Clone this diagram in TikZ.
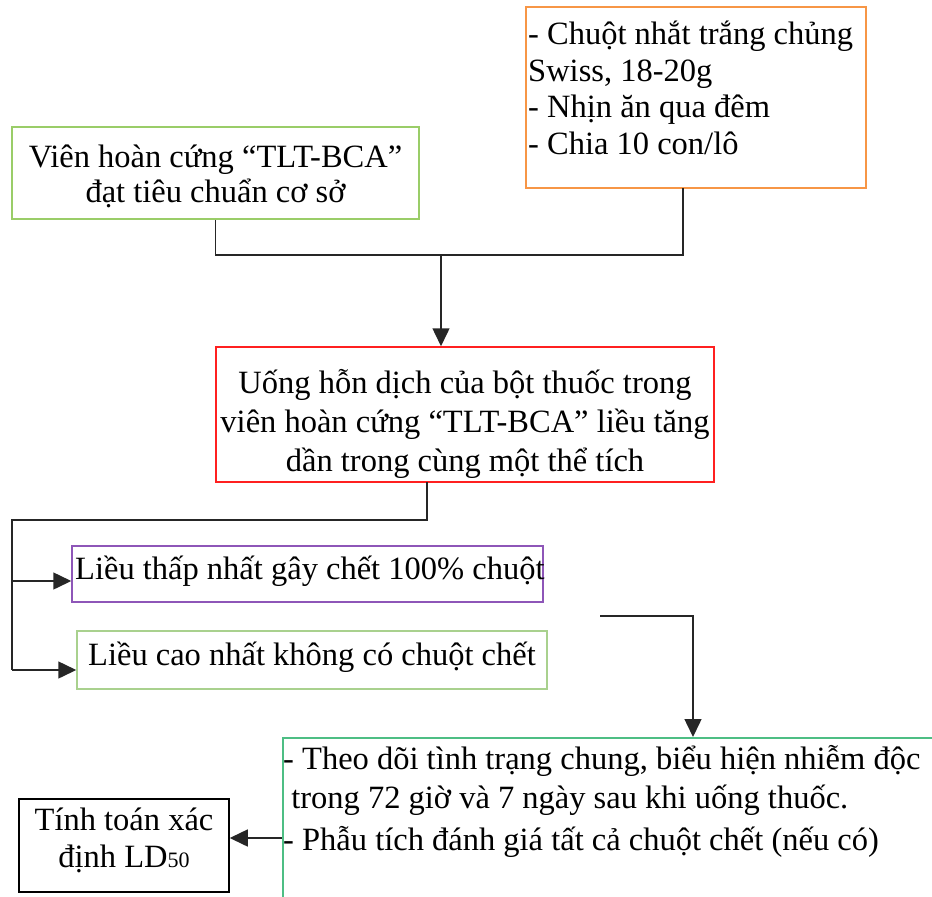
\documentclass[tikz,border=0pt]{standalone}
\usepackage{fontspec}
\setmainfont{Liberation Serif}
\usetikzlibrary{arrows.meta,calc}
\definecolor{gA}{HTML}{9ACD68}
\definecolor{orA}{HTML}{F79646}
\definecolor{rdA}{HTML}{FF2020}
\definecolor{puA}{HTML}{8E56B8}
\definecolor{gB}{HTML}{A9D18E}
\definecolor{gC}{HTML}{4DBE84}
\tikzset{
  box/.style={draw, line width=1.5pt, rectangle, inner sep=0pt},
  txt/.style={inner sep=0pt, font=\fontsize{32.5}{39}\selectfont},
  conn/.style={line width=1.5pt, draw=black!85},
  arr/.style={conn, -{Triangle[length=18pt,width=17pt]}},
}
\begin{document}
\begin{tikzpicture}[x=1pt,y=-1pt]
\useasboundingbox (0,0) rectangle (932,897);
\clip (0,0) rectangle (932,897);
% boxes
\node[box, draw=gA, minimum width=407pt, minimum height=92pt] (g1) at (215.5,173) {};
\node[box, draw=orA, minimum width=340pt, minimum height=181pt] (or) at (696,97.5) {};
\node[box, draw=rdA, minimum width=498pt, minimum height=135pt] (rd) at (465,414.5) {};
\node[box, draw=puA, minimum width=471pt, minimum height=56pt] (pu) at (307.5,574) {};
\node[box, draw=gB, minimum width=470pt, minimum height=58pt] (g2) at (312,660) {};
\node[box, draw=gC, minimum width=700pt, minimum height=200pt, anchor=north west] (bt) at (282,737) {};
\node[box, draw=black, minimum width=210pt, minimum height=93pt] (bk) at (124,845.5) {};
% texts
\node[txt, anchor=base] (g1a) at (215.5,167) {Viên hoàn cứng “TLT-BCA”};
\node[txt, anchor=base] (g1b) at (215.5,202) {đạt tiêu chuẩn cơ sở};
\node[txt, anchor=base west] (or1) at (528,44) {- Chuột nhắt trắng chủng};
\node[txt, anchor=base west] (or2) at (528,81) {Swiss, 18-20g};
\node[txt, anchor=base west] (or3) at (528,117.5) {- Nhịn ăn qua đêm};
\node[txt, anchor=base west] (or4) at (528,154) {- Chia 10 con/lô};
\node[txt, anchor=base] (rd1) at (465,393) {Uống hỗn dịch của bột thuốc trong};
\node[txt, anchor=base] (rd2) at (465,432) {viên hoàn cứng “TLT-BCA” liều tăng};
\node[txt, anchor=base] (rd3) at (465,471) {dần trong cùng một thể tích};
\node[txt, anchor=base west] (pu1) at (75,579) {Liều thấp nhất gây chết 100\% chuột};
\node[txt, anchor=base] (g2a) at (312,665) {Liều cao nhất không có chuột chết};
\node[txt, anchor=base west] (bt1) at (283,769) {- Theo dõi tình trạng chung, biểu hiện nhiễm độc};
\node[txt, anchor=base west] (bt2) at (283,808) {\ trong 72 giờ và 7 ngày sau khi uống thuốc.};
\node[txt, anchor=base west] (bt3) at (283,850) {- Phẫu tích đánh giá tất cả chuột chết (nếu có)};
\node[txt, anchor=base] (bk1) at (124,830) {Tính toán xác};
\node[txt, anchor=base] (bk2) at (124,867) {định LD{\fontsize{22}{22}\selectfont 50}};
% connectors
\coordinate (j1) at (441,255);
\coordinate (oT) at (683,188);
\draw[conn] (g1.south) |- (oT |- j1) -- (oT);
\draw[arr] (j1) -- (j1 |- rd.north);
\coordinate (rT) at (427,482);
\coordinate (j2) at (427,520);
\coordinate (c1) at (12,670);
\coordinate (b1) at (12,581);
\draw[conn] (rT) -- (j2) -| (c1);
\draw[arr] (b1) -- (b1 -| pu.west);
\draw[arr] (c1) -- (c1 -| g2.west);
\coordinate (s1) at (600,616);
\coordinate (s2) at (693,616);
\draw[arr] (s1) -- (s2) -- (s2 |- bt.north);
\coordinate (a4) at (282,838);
\draw[arr] (a4) -- (a4 -| bk.east);
\end{tikzpicture}
\end{document}
